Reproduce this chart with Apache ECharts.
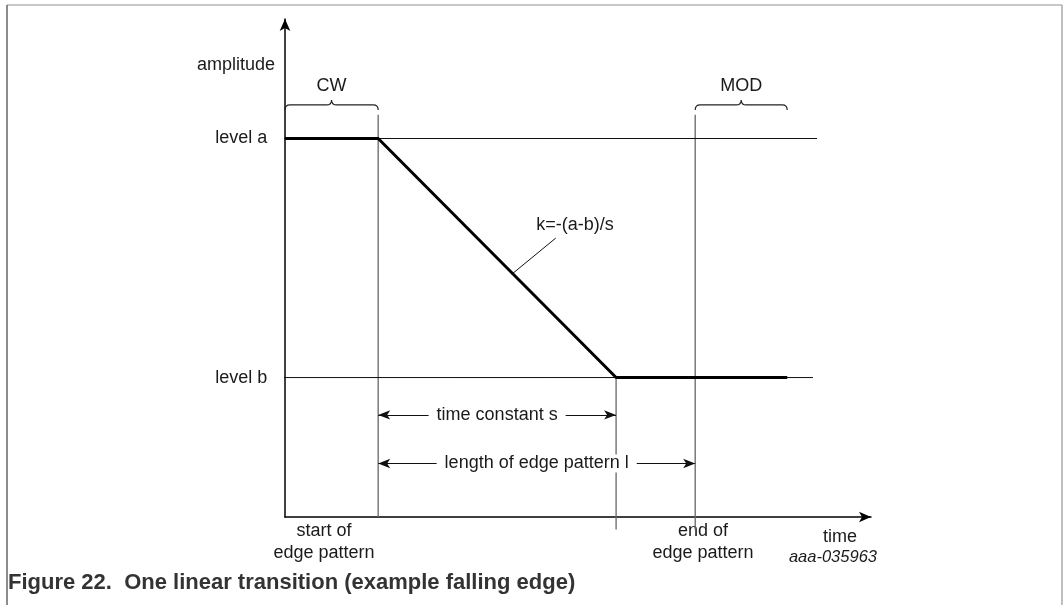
<!DOCTYPE html>
<html>
<head>
    <meta charset="utf-8">
    <script type="text/javascript" src="https://cdn.jsdelivr.net/npm/echarts@6/dist/echarts.min.js"></script>
    <style>
        html, body { margin: 0; padding: 0; background: #fff; }
    </style>
</head>
<body>

<div id="main" style="width: 1064px;height:605px;"></div>

<script type="text/javascript">

    // schematic units: time 0..100, amplitude 0..40
    var xMax = 100, yMax = 40;

    var levelNames = ['level a', 'level b'];
    var levelValues = [30.4, 11.2];
    var levelLineEnds = [90.8, 90.1];

    var eventTimes = [15.9, 70.0];          // start / end of edge pattern
    var sEndTime = 56.5;                    // start + time constant s
    var signalEndTime = 85.7;
    var markerTop = 32.3;
    var markerBottom = -1.0;

    var braceLabels = ['CW', 'MOD'];
    var braceStarts = [0, 70.0];
    var braceEnds = [15.9, 85.7];
    var braceLevel = 33.1;

    var dimLabels = ['time constant s', 'length of edge pattern l'];
    var dimEnds = [56.5, 70.0];
    var dimLevels = [8.2, 4.3];

    var slopeLeader = [[38.7, 19.5], [46.2, 22.4]];

    var FONT = 'Liberation Sans, Arial, sans-serif';
    var TXT = '#1a1a1a';
    var FS = 18;

    var myChart = echarts.init(document.getElementById('main'));

    var series = [];

    // thick signal
    series.push({
        type: 'line',
        data: [[0, levelValues[0]], [eventTimes[0], levelValues[0]], [sEndTime, levelValues[1]], [signalEndTime, levelValues[1]]],
        symbol: 'none',
        lineStyle: { color: '#000', width: 3 },
        z: 5,
        markLine: {
            silent: true,
            symbol: ['arrow', 'arrow'],
            symbolSize: [7, 12],
            lineStyle: { color: '#111', width: 1, type: 'solid' },
            label: {
                show: true,
                position: 'middle',
                distance: 0,
                verticalAlign: 'middle',
                formatter: '{b}',
                color: TXT,
                fontFamily: FONT,
                fontSize: FS,
                backgroundColor: '#fff',
                padding: [0, 8]
            },
            data: dimLabels.map(function (n, i) {
                return [{ name: n, coord: [eventTimes[0], dimLevels[i]] }, { coord: [dimEnds[i], dimLevels[i]] }];
            })
        }
    });

    // level reference lines
    levelValues.forEach(function (v, i) {
        series.push({
            type: 'line',
            data: [[-1.5, v], [levelLineEnds[i], v]],
            symbol: 'none',
            clip: false,
            lineStyle: { color: '#111', width: 1 },
            z: 3
        });
    });

    // level labels
    series.push({
        type: 'custom',
        clip: false,
        data: levelNames.map(function (n, i) { return [-1.5, levelValues[i], n]; }),
        renderItem: function (params, api) {
            var p = api.coord([api.value(0), api.value(1)]);
            return {
                type: 'text',
                x: p[0] - 9, y: p[1],
                style: {
                    text: api.value(2), fill: TXT, font: FS + 'px ' + FONT,
                    align: 'right', verticalAlign: 'middle'
                }
            };
        }
    });

    // vertical markers
    var markers = [
        [[eventTimes[0], 0], [eventTimes[0], markerTop]],
        [[sEndTime, markerBottom], [sEndTime, levelValues[1]]],
        [[eventTimes[1], markerBottom], [eventTimes[1], markerTop]]
    ];
    markers.forEach(function (d) {
        series.push({
            type: 'line',
            data: d,
            symbol: 'none',
            clip: false,
            lineStyle: { color: '#666', width: 1.3 },
            z: 2
        });
    });

    // slope leader
    series.push({
        type: 'line',
        data: slopeLeader,
        symbol: 'none',
        lineStyle: { color: '#111', width: 1 },
        z: 4
    });

    // braces
    series.push({
        type: 'custom',
        data: braceLabels.map(function (n, i) { return [braceStarts[i], braceEnds[i], braceLevel, n]; }),
        renderItem: function (params, api) {
            var a = api.coord([api.value(0), api.value(2)]);
            var b = api.coord([api.value(1), api.value(2)]);
            var y = a[1], x1 = a[0], x2 = b[0], m = (x1 + x2) / 2, h = 5, r = 5;
            var path = 'M' + x1 + ',' + (y + h) +
                'Q' + x1 + ',' + y + ' ' + (x1 + r) + ',' + y +
                'L' + (m - r) + ',' + y +
                'Q' + m + ',' + y + ' ' + m + ',' + (y - h) +
                'Q' + m + ',' + y + ' ' + (m + r) + ',' + y +
                'L' + (x2 - r) + ',' + y +
                'Q' + x2 + ',' + y + ' ' + x2 + ',' + (y + h);
            return {
                type: 'group',
                children: [{
                    type: 'path',
                    shape: { pathData: path },
                    style: { fill: null, stroke: '#222', lineWidth: 1.2 }
                }, {
                    type: 'text',
                    x: m, y: y - 19,
                    style: {
                        text: api.value(3), fill: TXT, font: FS + 'px ' + FONT,
                        align: 'center', verticalAlign: 'middle'
                    }
                }]
            };
        }
    });

    var option = {
        animation: false,
        grid: { left: 285, top: 19, width: 586, height: 498 },
        xAxis: {
            type: 'value', min: 0, max: xMax,
            splitLine: { show: false },
            axisTick: { show: false },
            axisLabel: { show: false },
            axisLine: { lineStyle: { color: '#000', width: 1.5 }, symbol: ['none', 'arrow'], symbolSize: [8, 12] }
        },
        yAxis: {
            type: 'value', min: 0, max: yMax,
            splitLine: { show: false },
            axisTick: { show: false },
            axisLabel: { show: false },
            axisLine: { lineStyle: { color: '#000', width: 1.5 }, symbol: ['none', 'arrow'], symbolSize: [8, 12] }
        },
        graphic: [
            { type: 'line', shape: { x1: 7, y1: 5, x2: 1062, y2: 5 }, style: { stroke: '#c8c8c8', lineWidth: 2 } },
            { type: 'line', shape: { x1: 7, y1: 5, x2: 7, y2: 605 }, style: { stroke: '#666', lineWidth: 1.5 } },
            { type: 'line', shape: { x1: 1062, y1: 5, x2: 1062, y2: 605 }, style: { stroke: '#aaa', lineWidth: 1.5 } },
            { type: 'text', x: 275, y: 65, style: { text: 'amplitude', fill: TXT, font: FS + 'px ' + FONT, align: 'right', verticalAlign: 'middle' } },
            { type: 'text', x: 575, y: 225, style: { text: 'k=-(a-b)/s', fill: TXT, font: FS + 'px ' + FONT, align: 'center', verticalAlign: 'middle' } },
            { type: 'text', x: 324, y: 542, style: { text: 'start of\nedge pattern', fill: TXT, font: FS + 'px ' + FONT, align: 'center', verticalAlign: 'middle', lineHeight: 22 } },
            { type: 'text', x: 703, y: 542, style: { text: 'end of\nedge pattern', fill: TXT, font: FS + 'px ' + FONT, align: 'center', verticalAlign: 'middle', lineHeight: 22 } },
            { type: 'text', x: 840, y: 537, style: { text: 'time', fill: TXT, font: FS + 'px ' + FONT, align: 'center', verticalAlign: 'middle' } },
            { type: 'text', x: 877, y: 557, style: { text: 'aaa-035963', fill: TXT, font: 'italic 16.5px ' + FONT, align: 'right', verticalAlign: 'middle' } },
            { type: 'text', x: 8, y: 583, style: { text: 'Figure 22.  One linear transition (example falling edge)', fill: '#333', font: 'bold 22px ' + FONT, align: 'left', verticalAlign: 'middle' } }
        ],
        series: series
    };

    myChart.setOption(option);
</script>

</body>
</html>
